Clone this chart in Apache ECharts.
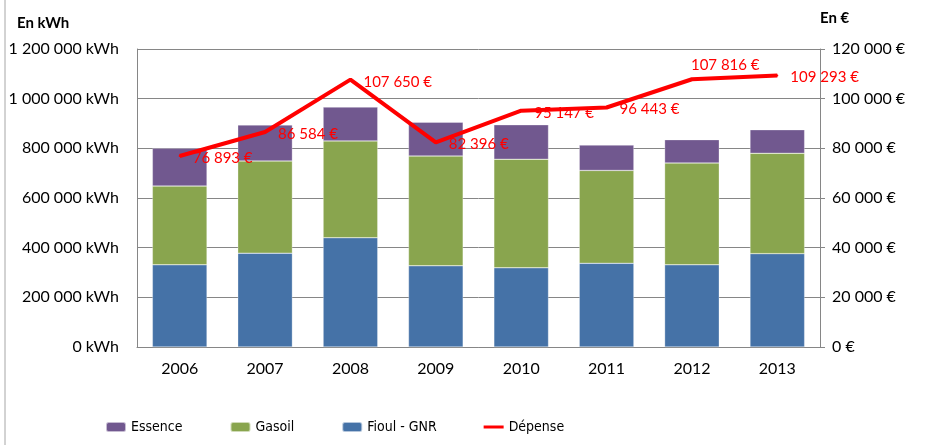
<!DOCTYPE html>
<html>
<head>
<meta charset="utf-8">
<script src="https://cdn.jsdelivr.net/npm/echarts@6/dist/echarts.min.js"></script>
<style>
html, body { margin: 0; padding: 0; background: #fff; }
#chart { width: 934px; height: 445px; }
</style>
</head>
<body>
<div id="chart"></div>
<script>
var years = ['2006', '2007', '2008', '2009', '2010', '2011', '2012', '2013'];
var fioul = [331000, 378000, 440000, 327000, 319000, 337000, 331000, 376000];
var gasoil = [317000, 371000, 390000, 442000, 437000, 374000, 410000, 404000];
var essence = [152000, 145000, 136000, 136000, 139000, 102000, 94000, 95000];
var depense = [76893, 86584, 107650, 82396, 95147, 96443, 107816, 109293];

var FONT = 'Lato, "Open Sans", sans-serif';
var NARROW = '"Liberation Sans Narrow", "DejaVu Sans Condensed", sans-serif';

// 1200000 -> "1 200 000"
function fmt(v) {
    return String(Math.round(v)).replace(/\B(?=(\d{3})+(?!\d))/g, ' ');
}

var chart = echarts.init(document.getElementById('chart'));

var lineData = depense.map(function (v, i) {
    if (i == 6) {
        return { value: v, label: { offset: [-14, -14] } };
    }
    return v;
});

var barStyle = function (color) {
    return { color: color, borderColor: 'rgba(255,255,255,0.6)', borderWidth: 0.5 };
};

chart.setOption({
    animation: false,
    textStyle: { fontFamily: FONT },
    grid: { left: 137, right: 114, top: 49, bottom: 98 },
    legend: {
        left: 100,
        top: 415,
        itemWidth: 20,
        itemHeight: 10,
        itemGap: 47,
        data: ['Essence', 'Gasoil', 'Fioul - GNR',
            { name: 'Dépense', icon: 'path://M0,0 L20,0 L20,3 L0,3 Z' }],
        textStyle: { color: '#000', fontSize: 14, fontFamily: NARROW }
    },
    graphic: [
        { type: 'line', shape: { x1: 5, y1: 0, x2: 5, y2: 445 }, style: { stroke: '#a6a6a6', lineWidth: 1 } },
        { type: 'text', left: 17, top: 16, style: { text: 'En kWh', font: 'bold 15px ' + FONT, fill: '#000' } },
        { type: 'text', left: 820, top: 11, style: { text: 'En €', font: 'bold 15px ' + FONT, fill: '#000' } }
    ],
    xAxis: {
        type: 'category',
        data: years,
        axisLine: { lineStyle: { color: '#868686' } },
        axisTick: { show: false },
        axisLabel: { color: '#000', fontSize: 16, margin: 14 }
    },
    yAxis: [
        {
            type: 'value',
            min: 0,
            max: 1200000,
            interval: 200000,
            axisLine: { show: true, lineStyle: { color: '#868686' } },
            axisTick: { show: false },
            splitLine: { lineStyle: { color: '#868686' } },
            axisLabel: {
                color: '#000', fontSize: 16, margin: 18,
                formatter: function (v) { return fmt(v) + ' kWh'; }
            }
        },
        {
            type: 'value',
            min: 0,
            max: 120000,
            interval: 20000,
            position: 'right',
            axisLine: { show: true, lineStyle: { color: '#868686' } },
            axisTick: { show: true, length: 5, lineStyle: { color: '#868686' } },
            splitLine: { show: false },
            axisLabel: {
                color: '#000', fontSize: 16, margin: 12,
                formatter: function (v) { return fmt(v) + ' €'; }
            }
        }
    ],
    series: [
        {
            name: 'Fioul - GNR', type: 'bar', stack: 'kwh', barWidth: '64%',
            itemStyle: barStyle('#4572a7'),
            data: fioul
        },
        {
            name: 'Gasoil', type: 'bar', stack: 'kwh',
            itemStyle: barStyle('#89a54e'),
            data: gasoil
        },
        {
            name: 'Essence', type: 'bar', stack: 'kwh',
            itemStyle: barStyle('#71588f'),
            data: essence
        },
        {
            name: 'Dépense', type: 'line', yAxisIndex: 1,
            symbol: 'circle',
            symbolSize: 2,
            showSymbol: true,
            lineStyle: { color: '#ff0000', width: 4 },
            itemStyle: { color: '#ff0000' },
            label: {
                show: true,
                position: 'right',
                distance: 12,
                offset: [0, 2],
                color: '#ff0000',
                fontSize: 15,
                formatter: function (p) { return fmt(p.value) + ' €'; }
            },
            data: lineData
        }
    ]
});
</script>
</body>
</html>
